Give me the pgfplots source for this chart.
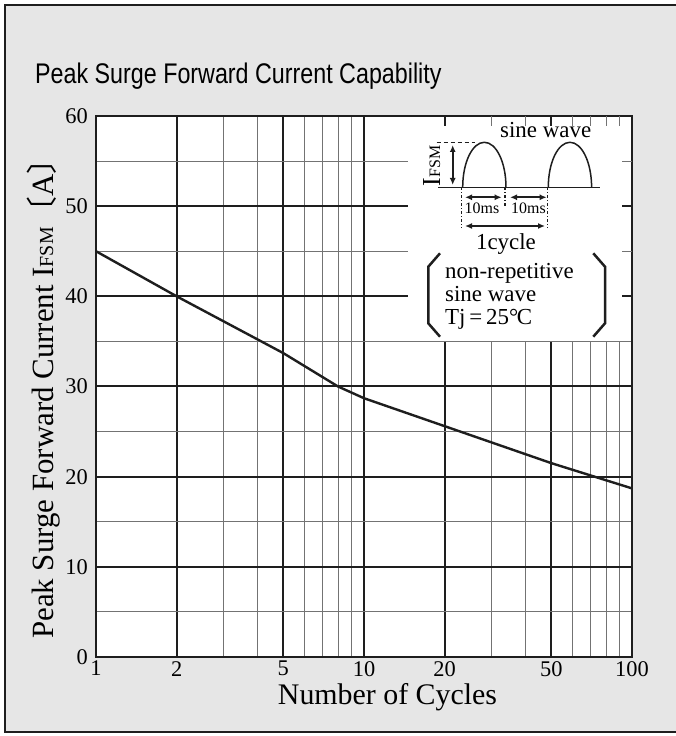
\documentclass[border=0pt]{standalone}
\usepackage{pgfplots}
\pgfplotsset{compat=1.18}
\usepackage{fontspec}
\setmainfont{Liberation Serif}
\newfontfamily\titlefont{Liberation Sans}
\newfontfamily\cjk{Noto Sans CJK JP}
\usetikzlibrary{arrows.meta}
\definecolor{bg}{HTML}{E6E6E6}
\definecolor{ink}{HTML}{1E1E1E}

\begin{document}
\begin{tikzpicture}
\begin{scope}[x=1bp,y=1bp]
\fill[white] (0,0) rectangle (676,736);
\fill[bg] (5,4) rectangle (676,731);
\draw[line width=2.5bp, ink] (676,731) -- (5,731) -- (5,4) -- (676,4);
\node[anchor=base west, inner sep=0pt] at (35,652)
  {\titlefont\fontsize{28.5}{28.5}\selectfont\scalebox{0.82}[1]{Peak Surge Forward Current Capability}};
\end{scope}

\begin{axis}[at={(96bp,79bp)}, anchor=south west, scale only axis,
  width=536bp, height=541bp,
  xmode=log, xmin=1, xmax=100, ymin=0, ymax=60,
  xtick={1,2,5,10,20,50,100}, xticklabels={1,2,5,10,20,50,100},
  minor xtick={3,4,6,7,8,9,30,40,60,70,80,90},
  ytick={0,10,20,30,40,50,60}, minor ytick={5,15,25,35,45,55},
  grid=both,
  major grid style={line width=2.0bp, ink},
  minor grid style={line width=1.0bp, black!55},
  major tick length=0pt, minor tick length=0pt,
  axis line style={line width=2.8bp, ink},
  tick label style={font=\fontsize{22.5}{22.5}\selectfont},
  /pgf/number format/assume math mode=true,
  yticklabel style={anchor=east, inner sep=0pt, xshift=-8bp},
  xticklabel style={anchor=north, inner sep=0pt, yshift=-4bp},
  axis background/.style={fill=white},
  clip=false]
\addplot[line width=2.4bp, ink] coordinates {
 (1,45) (2,40) (5,33.7) (8,30) (10,28.7) (20,25.6) (50,21.5) (100,18.7)};
\end{axis}

\begin{scope}[x=1bp,y=1bp]
% inset white area and grid stubs
\fill[white] (408,395) rectangle (630.6,618.6);
\foreach \xx in {491.9,525.4,572.5,590.5,606.0,619.7}
  \draw[line width=1.0bp, black!55] (\xx,620) -- (\xx,610);
\foreach \xx in {444.7,551.3}
  \draw[line width=2.0bp, ink] (\xx,620) -- (\xx,610);
\foreach \yy in {484.75,574.9}
  \draw[line width=1.0bp, black!55] (632,\yy) -- (622,\yy);
\foreach \yy in {439.7,529.8}
  \draw[line width=2.0bp, ink] (632,\yy) -- (622,\yy);

% axis labels
\node[anchor=base, inner sep=0pt] at (387.5,32)
  {\fontsize{30}{30}\selectfont Number of Cycles};
\node[anchor=base, inner sep=0pt, rotate=90] at (53,345)
  {\fontsize{31}{31}\selectfont Peak Surge Forward Current I{\fontsize{20}{20}\selectfont FSM}{\cjk 〔}A{\cjk 〕}};

% inset drawing
\node[anchor=base west, inner sep=0pt] at (500,598)
  {\fontsize{23}{23}\selectfont sine wave};
\draw[line width=1.2bp, ink, dash pattern=on 4bp off 3bp] (436.7,593.7) -- (475,593.7);
\draw[line width=1.6bp, ink, {Latex[length=7bp,width=6bp]}-{Latex[length=7bp,width=6bp]}] (452.7,591) -- (452.7,551);
\node[anchor=base, inner sep=0pt, rotate=90] at (440,570)
  {\fontsize{26}{26}\selectfont I{\fontsize{16}{16}\selectfont FSM}};
\draw[line width=1.5bp, ink] (438.3,548.7) -- (600,548.7);
\draw[line width=1.5bp, ink] (462.7,548.7) arc[start angle=180, end angle=0, x radius=21.65, y radius=45];
\draw[line width=1.5bp, ink] (548.3,548.7) arc[start angle=180, end angle=0, x radius=21.65, y radius=45];
\draw[line width=1.2bp, ink, dash pattern=on 3bp off 2bp on 1bp off 2bp] (461.7,548.7) -- (461.7,507.7);
\draw[line width=1.2bp, ink, dash pattern=on 3bp off 2bp on 1bp off 2bp] (505,548.7) -- (505,529.3);
\draw[line width=1.2bp, ink, dash pattern=on 3bp off 2bp on 1bp off 2bp] (547.7,548.7) -- (547.7,507.7);
\draw[line width=1.6bp, ink, {Latex[length=7bp,width=6bp]}-{Latex[length=7bp,width=6bp]}] (465,538.7) -- (501.7,538.7);
\draw[line width=1.6bp, ink, {Latex[length=7bp,width=6bp]}-{Latex[length=7bp,width=6bp]}] (510,538.7) -- (546.7,538.7);
\node[anchor=base, inner sep=0pt] at (482,522)
  {\fontsize{16}{16}\selectfont 10ms};
\node[anchor=base, inner sep=0pt] at (528.5,522)
  {\fontsize{16}{16}\selectfont 10ms};
\draw[line width=1.6bp, ink, {Latex[length=7bp,width=6bp]}-{Latex[length=7bp,width=6bp]}] (465,510) -- (545,510);
\node[anchor=base, inner sep=0pt] at (506,486.7)
  {\fontsize{23}{23}\selectfont 1cycle};
\draw[line width=2.5bp, ink] (440,482.7) -- (428.3,469.3) -- (428.3,412.7) -- (440,399.3);
\draw[line width=2.5bp, ink] (593.3,482.7) -- (605,469.3) -- (605,412.7) -- (593.3,399.3);
\node[anchor=base west, inner sep=0pt] at (445,457.7)
  {\fontsize{23}{23}\selectfont non-repetitive};
\node[anchor=base west, inner sep=0pt] at (445,434.3)
  {\fontsize{23}{23}\selectfont sine wave};
\node[anchor=base west, inner sep=0pt] at (445,411)
  {\fontsize{23}{23}\selectfont Tj\,=\,25°\kern-0.06em C};
\end{scope}
\pgfresetboundingbox
\path[use as bounding box] (0,0) rectangle (676bp,736bp);
\end{tikzpicture}
\end{document}
